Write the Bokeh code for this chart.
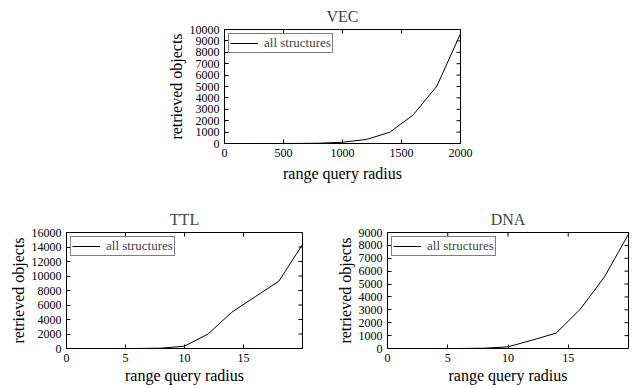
import math
from bokeh.plotting import figure
from bokeh.models import (Range1d, FixedTicker, Legend, LegendItem, Spacer)
from bokeh.layouts import column, row
from bokeh.embed import file_html
from bokeh.resources import INLINE

# ---- data ----
vec_radius = [200, 400, 600, 800, 1000, 1200, 1400, 1600, 1800, 2000]
vec_objects = [0, 1, 4, 25, 110, 350, 980, 2520, 5040, 9630]

ttl_radius = [2, 4, 6, 8, 10, 12, 14, 16, 18, 20]
ttl_objects = [0, 0, 5, 40, 320, 2000, 4990, 7150, 9290, 14340]

dna_radius = [2, 4, 6, 8, 10, 12, 14, 16, 18, 20]
dna_objects = [0, 0, 2, 20, 130, 650, 1195, 3050, 5550, 8870]

vec_xticks = [0, 500, 1000, 1500, 2000]
vec_yticks = list(range(0, 10001, 1000))
small_xticks = [0, 5, 10, 15]
ttl_yticks = list(range(0, 16001, 2000))
dna_yticks = list(range(0, 9001, 1000))

FONT = "Liberation Serif"


def make_panel(title, xs, ys, xmax, ymax, xticks, yticks, width, height,
               bl, br, bt, bb, title_standoff, xlabel_standoff):
    p = figure(width=width, height=height, output_backend="svg",
               toolbar_location=None, title=title,
               x_range=Range1d(0, xmax), y_range=Range1d(0, ymax),
               min_border_left=bl, min_border_right=br,
               min_border_top=bt, min_border_bottom=bb)
    p.title.text_font = FONT
    p.title.text_font_size = "16px"
    p.title.text_font_style = "normal"
    p.title.align = "center"
    p.title.standoff = title_standoff
    p.grid.visible = False
    p.outline_line_color = "black"
    p.outline_line_width = 1
    p.background_fill_color = "white"
    p.border_fill_color = "white"

    for ax, ticks in ((p.xaxis[0], xticks), (p.yaxis[0], yticks)):
        ax.ticker = FixedTicker(ticks=ticks)
        ax.major_tick_in = 4
        ax.major_tick_out = 0
        ax.minor_tick_line_color = None
        ax.axis_line_color = "black"
        ax.major_tick_line_color = "black"
        ax.major_label_text_font = FONT
        ax.major_label_text_font_size = "12px"
        ax.major_label_text_color = "black"
        ax.axis_label_text_font = FONT
        ax.axis_label_text_font_size = "16px"
        ax.axis_label_text_font_style = "normal"
        ax.axis_label_text_color = "black"
    p.xaxis[0].axis_label = "range query radius"
    p.yaxis[0].axis_label = "retrieved objects"
    p.xaxis[0].major_label_standoff = 5
    p.xaxis[0].axis_label_standoff = xlabel_standoff
    p.yaxis[0].major_label_standoff = 5
    p.yaxis[0].axis_label_standoff = 2

    # mirrored inward ticks on top and right edges (half of each dash is
    # clipped away by the frame, leaving a 4px inward tick)
    p.scatter(xticks, [ymax] * len(xticks), marker="dash", size=8,
              angle=math.pi / 2, line_color="black", line_width=1)
    p.scatter([xmax] * len(yticks), yticks, marker="dash", size=8,
              line_color="black", line_width=1)

    r = p.line(xs, ys, line_color="black", line_width=1)
    leg = Legend(items=[LegendItem(label="all structures", renderers=[r])],
                 location="top_left", margin=4, padding=1, spacing=0,
                 glyph_width=28, glyph_height=8, label_height=8,
                 label_standoff=6, label_text_font=FONT,
                 label_text_font_size="13px", border_line_color="black",
                 border_line_width=1, background_fill_alpha=1.0)
    p.add_layout(leg)
    return p


vec = make_panel("VEC", vec_radius, vec_objects, 2000, 10000,
                 vec_xticks, vec_yticks, 340, 184, 74, 30, 29, 40, 10, 5)
ttl = make_panel("TTL", ttl_radius, ttl_objects, 20, 16000,
                 small_xticks, ttl_yticks, 318, 204, 66, 16, 48, 40, 9, 2)
dna = make_panel("DNA", dna_radius, dna_objects, 20, 9000,
                 small_xticks, dna_yticks, 319, 204, 69, 9, 48, 40, 9, 2)

layout = column(row(Spacer(width=150, height=184), vec), row(ttl, dna))

open("out.html", "w").write(file_html(layout, INLINE))
